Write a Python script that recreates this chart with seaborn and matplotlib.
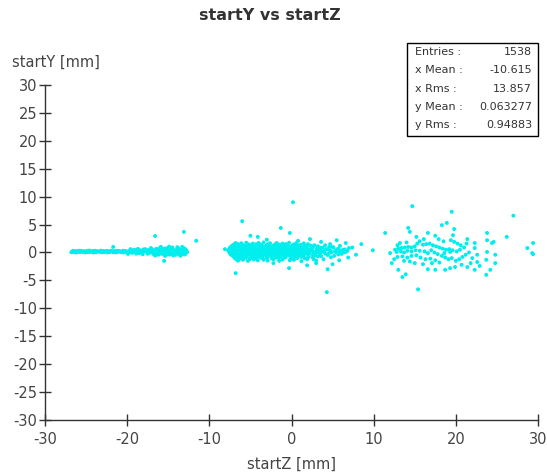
import matplotlib
matplotlib.use("Agg")
import matplotlib.pyplot as plt
from matplotlib.patches import Rectangle
import pandas as pd
import seaborn as sns

# ---- data: startZ / startY of the primary vertices [mm] ----
# narrow band of vertices at negative z
band_z = [-26.8, -26.5, -26.2, -25.8, -25.5, -25.1, -24.8, -24.5, -24.1, -23.8, -23.4,
          -23.1, -22.8, -22.4, -22.1, -21.7, -21.4, -21.1, -20.7, -20.4, -20.0,
          -26.6, -26.3, -25.9, -25.6, -25.3, -24.9, -24.6, -24.2, -23.9, -23.6,
          -23.2, -22.9, -22.5, -22.2, -21.9, -21.5, -21.2, -20.9, -20.5, -20.2,
          -19.7, -19.3, -19.0, -18.6, -18.3, -17.9, -17.6, -17.2, -16.9, -16.5, -16.2,
          -15.8, -15.5, -15.1, -14.8, -14.4, -14.1, -13.7, -13.4, -13.0, -12.7,
          -19.5, -19.1, -18.4, -18.0, -17.4, -17.0, -16.7, -16.3, -16.0, -15.6,
          -15.3, -14.9, -14.6, -14.2, -13.9, -13.5, -13.2, -12.8,
          -19.9, -18.9, -18.1, -17.5, -16.8, -16.4, -16.1, -15.7, -15.4, -15.0,
          -14.7, -14.3, -14.0, -13.6, -13.3, -12.9,
          -17.1, -16.0, -15.2, -14.5, -13.8, -13.1,
          -16.6, -15.4, -14.4, -13.5,
          -21.7, -16.6, -13.1, -11.6, -15.5]
band_y = [0.05, 0.10, 0.00, 0.08, 0.12, 0.02, 0.06, 0.10, 0.00, 0.05, 0.12,
          0.04, 0.08, 0.00, 0.10, 0.06, 0.02, 0.10, 0.05, 0.00, 0.08,
          0.30, 0.25, 0.32, 0.28, 0.22, 0.30, 0.35, 0.26, 0.30, 0.24,
          0.33, 0.28, 0.30, 0.22, 0.34, 0.27, 0.30, 0.25, 0.32, 0.28,
          0.10, 0.05, 0.15, 0.00, 0.10, 0.20, 0.05, 0.12, 0.00, 0.15, 0.08,
          0.10, 0.00, 0.12, 0.05, 0.15, 0.00, 0.10, 0.05, 0.12, 0.08,
          0.45, 0.50, 0.40, 0.55, 0.45, 0.50, 0.42, 0.55, 0.48, 0.40,
          0.52, 0.45, 0.58, 0.42, 0.50, 0.46, 0.55, 0.40,
          -0.25, -0.20, -0.30, -0.22, -0.28, -0.20, -0.30, -0.25, -0.18, -0.30,
          -0.22, -0.28, -0.20, -0.32, -0.25, -0.20,
          0.80, 0.85, 0.75, 0.90, 0.80, 0.78,
          -0.55, -0.60, -0.50, -0.58,
          1.0, 2.95, 3.7, 2.1, -1.5]
band2_z = [-26.65, -26.35, -26.05, -25.7, -25.4, -25.2, -24.95, -24.65, -24.3, -24.0,
           -23.7, -23.3, -23.0, -22.65, -22.35, -22.0, -21.6, -21.3, -21.0, -20.6,
           -20.3, -19.8, -19.4, -19.2, -18.8, -18.5, -18.2, -17.8, -17.3, -16.85,
           -16.45, -15.9, -15.5, -15.0, -14.55, -14.15, -13.75, -13.3, -12.95,
           -19.6, -18.7, -17.7, -16.2, -15.3, -14.8, -14.1, -13.6, -13.0,
           -15.9, -14.9, -13.9, -13.3]
band2_y = [0.18, 0.15, 0.2, 0.17, 0.14, 0.19, 0.16, 0.2, 0.15, 0.18,
           0.17, 0.2, 0.15, 0.18, 0.16, 0.19, 0.14, 0.18, 0.2, 0.16,
           0.18, 0.25, -0.05, 0.3, 0.2, -0.1, 0.28, 0.6, -0.08, 0.3,
           0.65, 0.3, 0.7, 0.3, 0.68, 0.28, 0.7, 0.3, 0.62,
           0.6, 0.65, 0.3, -0.4, -0.45, -0.38, -0.42, -0.4, -0.35,
           1.0, 1.05, 0.95, 1.0]

# central cluster around z = 0
core_z = [-6.8, -6.1, -5.5, -4.7, -4.0, -3.4, -2.6, -1.8, -1.1, -0.3, 0.6, 1.5,
          -7.2, -6.7, -6.3, -5.8, -5.4, -4.9, -4.5, -4.0, -3.6, -3.1, -2.7, -2.2, -1.8,
          -1.3, -0.9, -0.4, 0.1, 0.6, 1.0, 1.6, 2.3, 3.2, 4.1, 5.0, 5.9,
          -7.5, -7.1, -6.6, -6.2, -5.7, -5.3, -4.8, -4.4, -3.9, -3.5, -3.0, -2.6, -2.1,
          -1.7, -1.2, -0.8, -0.3, 0.2, 0.6, 1.1, 1.5, 2.0, 2.6, 3.1, 3.8, 4.4, 5.1,
          5.7, 6.3, 7.0,
          -7.7, -7.3, -6.9, -6.4, -6.0, -5.5, -5.1, -4.6, -4.2, -3.7, -3.3, -2.8, -2.4,
          -1.9, -1.5, -1.0, -0.6, -0.1, 0.4, 0.8, 1.3, 1.8, 2.3, 2.9, 3.5, 4.0, 4.7,
          5.3, 6.0, 6.8,
          -7.5, -7.0, -6.6, -6.1, -5.7, -5.2, -4.8, -4.3, -3.9, -3.4, -3.0, -2.5, -2.1,
          -1.6, -1.2, -0.7, -0.2, 0.3, 0.7, 1.2, 1.7, 2.2, 2.8, 3.4, 4.1, 4.6, 5.4, 6.1,
          -7.2, -6.7, -6.3, -5.8, -5.4, -4.9, -4.5, -4.0, -3.6, -3.1, -2.6, -2.2, -1.7,
          -1.3, -0.8, -0.3, 0.2, 0.9, 1.5, 2.1, 2.9, 3.6, 4.4, 5.2,
          -6.9, -6.2, -5.6, -5.0, -4.3, -3.7, -3.0, -2.4, -1.6, -0.9, -0.1, 0.7, 1.6,
          2.6, 3.9,
          -6.5, -5.3, -4.1, -2.9, -1.5, -0.2, 1.2, 3.0,
          -8.1, -6.0, -1.3, -0.2, 0.18, -6.8, 4.3, 9.9, -0.3, 4.4, -5.0, -4.1, 2.25,
          5.5, 6.6, 8.5, 7.85, -3.0, 0.8, 3.0, 5.8, 6.9, 7.4, 3.6, 4.7, 1.9, -2.2,
          5.0, 6.3, 2.7]
core_y = [1.7, 1.65, 1.75, 1.6, 1.7, 1.8, 1.65, 1.7, 1.6, 1.75, 1.7, 1.65,
          1.25, 1.2, 1.3, 1.25, 1.2, 1.3, 1.22, 1.28, 1.25, 1.2, 1.3, 1.25, 1.2,
          1.3, 1.25, 1.2, 1.28, 1.22, 1.3, 1.2, 1.25, 1.1, 1.3, 1.0, 1.2,
          0.8, 0.85, 0.75, 0.8, 0.85, 0.78, 0.82, 0.8, 0.75, 0.85, 0.8, 0.78, 0.82,
          0.8, 0.85, 0.75, 0.8, 0.82, 0.78, 0.85, 0.8, 0.75, 0.9, 0.7, 0.85, 0.6, 0.9,
          0.7, 0.5, 0.8,
          0.35, 0.4, 0.3, 0.35, 0.4, 0.32, 0.38, 0.35, 0.3, 0.4, 0.35, 0.32, 0.38,
          0.35, 0.4, 0.3, 0.35, 0.38, 0.32, 0.35, 0.4, 0.3, 0.35, 0.2, 0.45, 0.3, 0.4,
          0.25, 0.35, 0.3,
          -0.1, -0.05, -0.15, -0.1, -0.05, -0.12, -0.08, -0.1, -0.15, -0.05, -0.1,
          -0.12, -0.08, -0.1, -0.05, -0.15, -0.1, -0.08, -0.12, -0.1, -0.05, -0.15,
          -0.1, 0.0, -0.2, -0.1, 0.05, -0.25,
          -0.55, -0.5, -0.6, -0.55, -0.5, -0.58, -0.52, -0.55, -0.6, -0.5, -0.55,
          -0.58, -0.52, -0.55, -0.6, -0.5, -0.55, -0.6, -0.45, -0.7, -0.5, -0.65,
          -0.4, -0.6,
          -1.0, -1.05, -0.95, -1.0, -1.1, -0.95, -1.0, -1.05, -1.0, -0.95, -1.1, -1.0,
          -1.05, -0.9, -1.2,
          -1.45, -1.5, -1.4, -1.45, -1.5, -1.4, -1.55, -1.45,
          0.6, 5.6, 4.4, 3.5, 9.0, -3.7, -7.1, 0.4, -2.8, -3.0, 3.0, 2.8, 2.4,
          2.2, 1.7, 1.5, -0.4, 2.3, 2.1, -1.9, -1.4, -0.9, 0.9, 1.9, 1.5, -2.3, -1.9,
          -2.1, 0.0, -1.2]
core2_z = [-7.0, -6.5, -6.0, -5.2, -4.3, -3.8, -2.9, -2.0, -1.5, -0.7, 0.3, 1.1, 2.0, 2.8,
           -7.4, -6.9, -6.45, -6.0, -5.55, -5.1, -4.65, -4.2, -3.75, -3.3, -2.85, -2.4,
           -1.95, -1.5, -1.05, -0.6, -0.15, 0.35, 0.8, 1.3, 1.8, 2.5, 3.5, 4.6,
           -7.6, -7.2, -6.75, -6.3, -5.85, -5.4, -4.95, -4.5, -4.05, -3.6, -3.15, -2.7,
           -2.25, -1.8, -1.35, -0.9, -0.45, 0.0, 0.5, 0.95, 1.4, 1.9, 2.45, 3.3, 4.2,
           5.5, 6.5,
           -7.6, -7.15, -6.7, -6.25, -5.8, -5.35, -4.9, -4.45, -4.0, -3.55, -3.1, -2.65,
           -2.2, -1.75, -1.3, -0.85, -0.4, 0.05, 0.5, 1.0, 1.5, 2.0, 2.6, 3.2, 3.8, 4.9,
           5.8, 6.6,
           -7.4, -6.9, -6.45, -6.0, -5.55, -5.1, -4.65, -4.2, -3.75, -3.3, -2.85, -2.4,
           -1.95, -1.5, -1.05, -0.6, -0.1, 0.5, 1.0, 1.5, 2.0, 2.6, 3.5, 4.4, 5.7,
           -7.0, -6.5, -6.0, -5.5, -5.0, -4.6, -4.1, -3.5, -2.9, -2.3, -1.9, -1.4, -0.7,
           0.0, 0.5, 1.2, 2.0, 3.2, 4.8,
           -6.7, -5.9, -5.1, -4.6, -3.4, -2.2, -1.1, 0.3, 1.9]
core2_y = [1.45, 1.5, 1.4, 1.45, 1.5, 1.42, 1.48, 1.45, 1.4, 1.5, 1.45, 1.4, 1.5, 1.3,
           1.0, 1.05, 0.95, 1.0, 1.02, 0.98, 1.0, 1.05, 0.95, 1.0, 1.02, 0.98,
           1.0, 1.05, 0.95, 1.0, 1.02, 0.98, 1.05, 0.95, 1.0, 1.1, 0.9, 1.0,
           0.55, 0.6, 0.5, 0.55, 0.58, 0.52, 0.55, 0.6, 0.5, 0.55, 0.58, 0.52,
           0.55, 0.6, 0.5, 0.55, 0.58, 0.52, 0.55, 0.6, 0.5, 0.55, 0.65, 0.45, 0.6,
           0.5, 0.55,
           0.1, 0.12, 0.08, 0.1, 0.14, 0.06, 0.1, 0.12, 0.08, 0.1, 0.14, 0.06,
           0.1, 0.12, 0.08, 0.1, 0.14, 0.06, 0.1, 0.12, 0.08, 0.1, 0.2, 0.0, 0.15, 0.05,
           0.2, 0.1,
           -0.35, -0.3, -0.4, -0.35, -0.32, -0.38, -0.35, -0.3, -0.4, -0.35, -0.32, -0.38,
           -0.35, -0.3, -0.4, -0.35, -0.32, -0.38, -0.3, -0.4, -0.35, -0.45, -0.3, -0.4,
           -0.35,
           -0.8, -0.85, -0.75, -0.8, -0.82, -0.78, -0.8, -0.85, -0.75, -0.8, -0.82, -0.78,
           -0.8, -0.85, -0.75, -0.8, -0.9, -0.7, -0.85,
           -1.25, -1.3, -1.2, -1.25, -1.3, -1.2, -1.25, -1.3, -1.2]

# wider cluster at positive z
far_z = [11.4, 12.0, 12.2, 13.2, 13.0, 13.5, 13.9, 14.7, 15.4, 14.2, 14.4, 16.6,
         17.5, 18.3, 18.9, 19.8, 19.65, 19.5, 27.0, 16.6, 17.5, 18.7, 19.3, 15.0,
         21.4, 21.4, 22.3, 22.9, 22.3, 22.3, 22.6, 23.8, 23.8, 24.4, 24.6, 23.8,
         24.8, 23.7, 24.8, 23.7, 24.2, 26.2, 29.4, 28.7, 29.3, 29.4,
         12.6, 13.0, 13.4, 13.8, 14.2, 14.6, 15.0,
         12.8, 13.3, 13.7, 14.1, 14.6, 15.1, 15.6,
         16.0, 16.4, 16.8, 17.2, 17.6, 18.0, 18.4, 18.8, 19.2, 19.6, 20.1, 20.5,
         16.2, 16.6, 17.0, 17.4, 17.8, 18.3, 18.7, 19.1, 19.5, 20.0, 20.4, 20.8,
         21.2, 21.6, 21.0, 20.6, 20.2, 19.8, 19.4,
         12.9, 13.5, 14.1, 14.6, 15.2, 15.7, 16.3, 16.9, 17.5, 18.0, 17.1, 16.0,
         14.4, 13.7, 12.5,
         15.6, 16.1, 15.2, 17.9, 18.5, 21.3, 22.0, 22.6, 21.8, 20.7, 19.9, 15.3,
         14.0, 12.9, 18.6, 19.3]
far_y = [3.5, -0.1, -1.9, 1.7, -3.1, -4.4, -3.9, 8.3, -6.6, 4.4, 3.7, 3.5,
         3.0, 4.9, 5.3, 4.2, 3.1, 7.3, 6.6, -3.0, -3.1, -3.1, -2.8, -1.9,
         2.4, -2.6, -3.1, -2.4, 1.7, 0.8, -0.4, 3.5, 2.2, 1.7, 1.9, 0.1,
         -0.4, -1.3, -1.9, -4.0, -3.1, 2.8, 1.7, 0.8, -0.1, -0.3,
         0.5, 0.7, 0.8, 0.9, 1.0, 0.9, 1.1,
         0.1, 0.2, 0.0, 0.3, 0.2, 0.4, 0.3,
         1.4, 1.5, 1.6, 1.3, 1.1, 0.9, 0.7, 0.5, 0.6, 0.4, 0.2, 0.5,
         0.2, -0.1, 0.4, 0.0, -0.3, -0.6, -0.9, -1.2, -1.0, -1.5, -1.2, -0.8,
         -0.4, 0.0, 0.9, 1.3, 1.6, 1.9, 2.2,
         -0.8, -0.7, -0.9, -0.6, -0.5, -0.9, -1.2, -1.1, -1.4, -1.8, -1.9, -2.1,
         -1.6, -1.5, -1.2,
         2.0, 2.4, 2.8, 2.4, 2.0, 1.6, -1.0, -1.7, -1.9, -2.2, -2.6, 1.6,
         1.8, 1.3, -0.1, 0.1]

# statistics panel
stat_names = ["Entries :", "x Mean :", "x Rms :", "y Mean :", "y Rms :"]
stat_values = ["1538", "-10.615", "13.857", "0.063277", "0.94883"]

title = "startY vs startZ"
xlabel = "startZ [mm]"
ylabel = "startY [mm]"
xticks = [-30, -20, -10, 0, 10, 20, 30]
yticks = [-30, -25, -20, -15, -10, -5, 0, 5, 10, 15, 20, 25, 30]

df = pd.DataFrame({"startZ": band_z + band2_z + core_z + core2_z + far_z,
                   "startY": band_y + band2_y + core_y + core2_y + far_y})

sns.set_style("ticks")
plt.rcParams["font.family"] = ["DejaVu Sans"]

W, H = 547, 476
fig = plt.figure(figsize=(W / 100, H / 100), dpi=100)
ax = fig.add_axes([45 / W, 1 - 420 / H, (538 - 45) / W, (420 - 85) / H])

sns.scatterplot(data=df, x="startZ", y="startY", ax=ax, s=8,
                color="#00eeee", linewidth=0, edgecolor="none", legend=False)

ax.set_xlim(-30, 30)
ax.set_ylim(-30, 30)
ax.set_xticks(xticks)
ax.set_yticks(yticks)
ax.set_xticklabels([str(t) for t in xticks])
ax.set_yticklabels([str(t) for t in yticks])
ax.set_xlabel("")
ax.set_ylabel("")
ax.tick_params(direction="inout", length=9, width=1, color="#333333",
               labelsize=10.5, labelcolor="#444444")
ax.tick_params(axis="x", pad=4)
ax.tick_params(axis="y", pad=1)
sns.despine(ax=ax)
for side in ("left", "bottom"):
    ax.spines[side].set_color("#333333")
    ax.spines[side].set_linewidth(1)

txt = "#333333"
fig.text(270 / W, 1 - 16 / H, title, ha="center", va="center",
         fontsize=11.5, fontweight="bold", color=txt)
fig.text(12 / W, 1 - 62 / H, ylabel, ha="left", va="center",
         fontsize=10.5, color="#444444")
fig.text(291.5 / W, 1 - 464 / H, xlabel, ha="center", va="center",
         fontsize=10.5, color="#444444")

# statistics box
bx0, by0, bx1, by1 = 407, 43, 538, 136
fig.patches.append(Rectangle((bx0 / W, 1 - by1 / H), (bx1 - bx0) / W, (by1 - by0) / H,
                             transform=fig.transFigure, facecolor="white",
                             edgecolor="black", linewidth=1, zorder=5))
for i, (name, val) in enumerate(zip(stat_names, stat_values)):
    yy = 1 - (52 + i * 18.3) / H
    fig.text((bx0 + 8) / W, yy, name, ha="left", va="center", fontsize=8,
             color=txt, zorder=6)
    fig.text((bx1 - 6) / W, yy, val, ha="right", va="center", fontsize=8,
             color=txt, zorder=6)

fig.savefig("out.png", dpi=100)
